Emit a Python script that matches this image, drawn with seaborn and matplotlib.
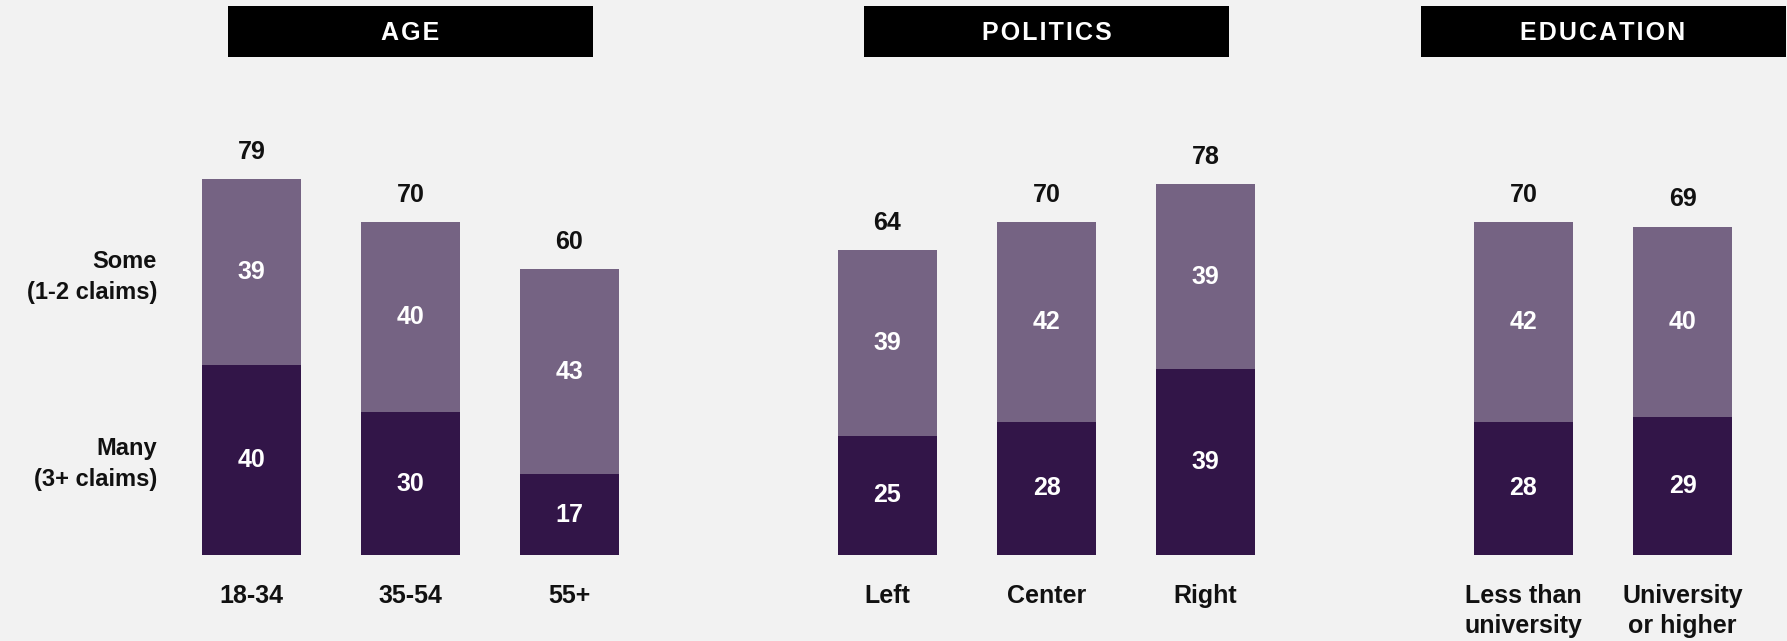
import pandas as pd
import numpy as np
import matplotlib.pyplot as plt
import seaborn as sns
from matplotlib.patches import Rectangle

# ====================================
# Data
# ====================================
age_groups = ["18-34", "35-54", "55+"]
age_many = [40, 30, 17]
age_some = [39, 40, 43]
age_total = [79, 70, 60]

politics_groups = ["Left", "Center", "Right"]
politics_many = [25, 28, 39]
politics_some = [39, 42, 39]
politics_total = [64, 70, 78]

edu_groups = ["Less than\nuniversity", "University\nor higher"]
edu_many = [28, 29]
edu_some = [42, 40]
edu_total = [70, 69]

panel_titles = ["AGE", "POLITICS", "EDUCATION"]

# ====================================
# Style
# ====================================
BG = "#f2f2f2"
DARK = "#321548"
LIGHT = "#756383"
sns.set_theme(style="white")
plt.rcParams["font.family"] = ["Liberation Sans", "DejaVu Sans"]
plt.rcParams["font.weight"] = "bold"

W, H = 1787, 641
fig = plt.figure(figsize=(W / 100, H / 100), dpi=100, facecolor=BG)

# axes layout in pixels (left, width)
y_bottom = 555
px_per_unit = 4.76
ymax = 95
ax_h = ymax * px_per_unit
layout = [(172, 477), (808, 477), (1444, 318)]

panels = [
    (age_groups, age_many, age_some, age_total),
    (politics_groups, politics_many, politics_some, politics_total),
    (edu_groups, edu_many, edu_some, edu_total),
]

for (left, width), (groups, many, some, total), title in zip(layout, panels, panel_titles):
    ax = fig.add_axes([left / W, (H - y_bottom) / H, width / W, ax_h / H])
    ax.set_facecolor(BG)
    df = pd.DataFrame({"group": groups, "many": many, "some": some, "total": total})

    sns.barplot(data=df, x="group", y="many", color=DARK, width=0.62,
                saturation=1, ax=ax, order=groups, linewidth=0)
    sns.barplot(data=df, x="group", y="some", bottom=df["many"], color=LIGHT,
                width=0.62, saturation=1, ax=ax, order=groups, linewidth=0)

    for i, row in df.iterrows():
        ax.text(i, row["many"] / 2, str(row["many"]), ha="center", va="center",
                color="white", fontsize=18, fontweight="bold")
        ax.text(i, row["many"] + row["some"] / 2, str(row["some"]), ha="center",
                va="center", color="white", fontsize=18, fontweight="bold")
        ax.text(i, row["total"] + 5.7, str(row["total"]), ha="center",
                va="center", color="#111111", fontsize=18, fontweight="bold")

    ax.set_xlim(-0.5, len(groups) - 0.5)
    ax.set_ylim(0, ymax)
    ax.set_xlabel("")
    ax.set_ylabel("")
    ax.set_yticks([])
    ax.tick_params(axis="x", length=0, pad=21)
    for lab in ax.get_xticklabels():
        lab.set_fontsize(18)
        lab.set_fontweight("bold")
        lab.set_color("#111111")
        lab.set_linespacing(1.3)
    sns.despine(ax=ax, left=True, bottom=True)

    # header box
    cx = left + width / 2
    bw, btop, bbot = 365, 6, 57
    fig.patches.append(Rectangle(((cx - bw / 2) / W, (H - bbot) / H), bw / W,
                                 (bbot - btop) / H, transform=fig.transFigure,
                                 facecolor="black", edgecolor="none"))
    # hair spaces between letters for the tracked-out header look
    fig.text(cx / W, (H - (btop + bbot) / 2 - 2) / H, "\u200a".join(title),
             ha="center", va="center", color="white", fontsize=18,
             fontweight="bold")

# left side labels
fig.text(157 / W, (H - 277) / H, "Some\n(1-2 claims)", ha="right", va="center",
         fontsize=17, fontweight="bold", color="#111111", linespacing=1.45)
fig.text(157 / W, (H - 464) / H, "Many\n(3+ claims)", ha="right", va="center",
         fontsize=17, fontweight="bold", color="#111111", linespacing=1.45)

plt.savefig("out.png", dpi=100, facecolor=BG)
